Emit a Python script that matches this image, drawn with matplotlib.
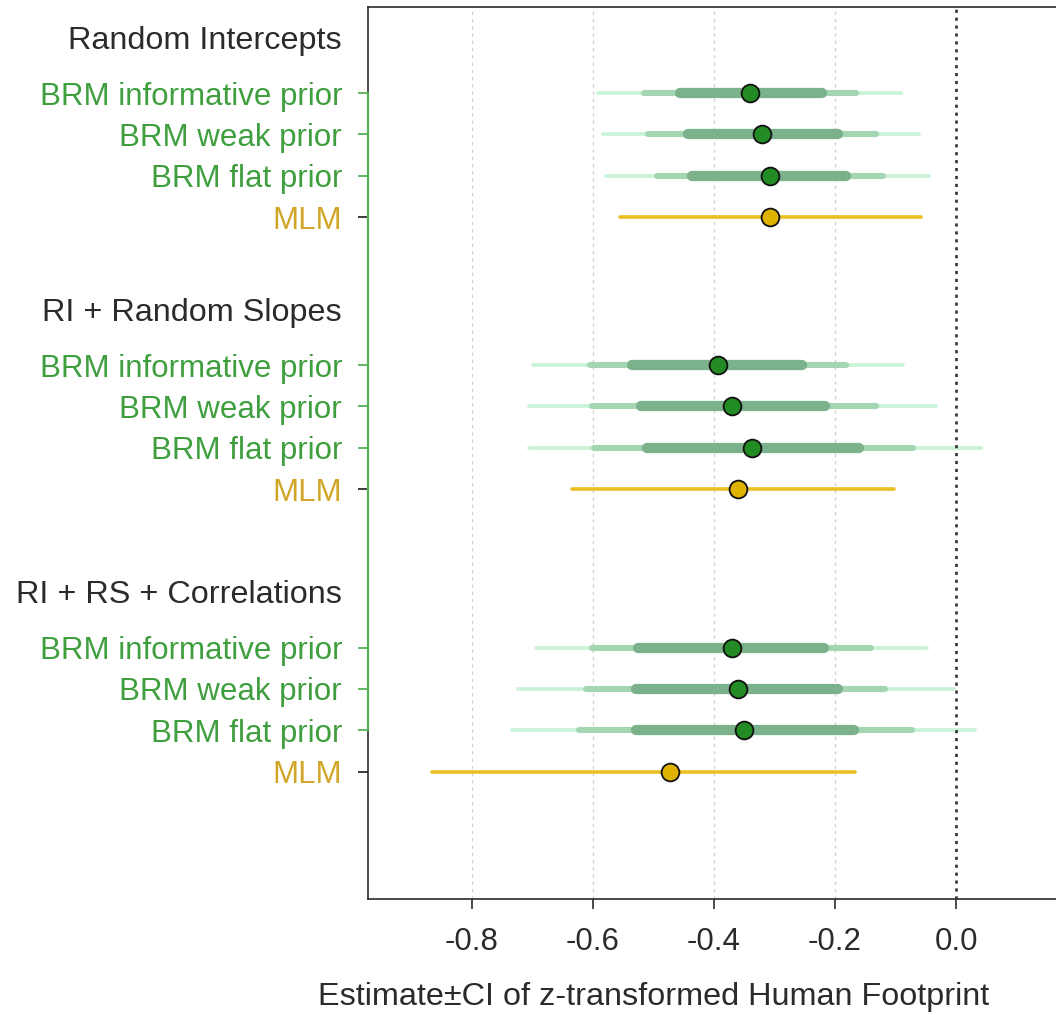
#!/usr/bin/env python3
"""Forest plot of Human Footprint estimates: BRM priors vs MLM across three random-effect structures."""

import matplotlib

matplotlib.use("Agg")
import matplotlib.pyplot as plt
from matplotlib.transforms import blended_transform_factory

# ---- data ----
GROUPS = ["Random Intercepts", "RI + Random Slopes", "RI + RS + Correlations"]
BRM_MODELS = ["BRM informative prior", "BRM weak prior", "BRM flat prior"]
MLM_LABEL = "MLM"

# posterior medians, one row per group, one column per prior
brm_est = [
    [-0.340, -0.321, -0.308],
    [-0.394, -0.371, -0.337],
    [-0.370, -0.360, -0.351],
]
# widest interval (thin, light band)
brm_outer_lo = [[-0.592, -0.583, -0.579], [-0.699, -0.705, -0.705], [-0.694, -0.724, -0.734]]
brm_outer_hi = [[-0.091, -0.061, -0.045], [-0.088, -0.033, 0.041], [-0.048, -0.003, 0.031]]
# middle interval
brm_mid_lo = [[-0.515, -0.509, -0.495], [-0.605, -0.601, -0.598], [-0.601, -0.611, -0.623]]
brm_mid_hi = [[-0.166, -0.133, -0.120], [-0.182, -0.133, -0.071], [-0.140, -0.117, -0.073]]
# inner interval (thick band)
brm_inner_lo = [[-0.456, -0.443, -0.436], [-0.535, -0.521, -0.511], [-0.526, -0.529, -0.529]]
brm_inner_hi = [[-0.222, -0.195, -0.182], [-0.255, -0.216, -0.160], [-0.218, -0.195, -0.168]]

mlm_est = [-0.308, -0.361, -0.473]
mlm_lo = [-0.556, -0.635, -0.866]
mlm_hi = [-0.058, -0.102, -0.167]

X_TICKS = [-0.8, -0.6, -0.4, -0.2, 0.0]

# ---- layout (vertical positions in pixel-like units, axis inverted) ----
GROUP_FIRST_ROW = [93.0, 365.0, 647.5]
ROW_STEP = 41.4
HEADER_OFFSET = 52.5

GREEN_TEXT = "#3f9f3f"
GOLD_TEXT = "#d1a627"
DARK = "#2b2b2b"
SPINE_GREEN = "#55b055"


def main():
    plt.rcParams.update(
        {
            "font.family": ["Liberation Sans", "DejaVu Sans"],
            "axes.unicode_minus": False,
        }
    )
    fs = 22.5
    fs_wide = 23.3

    fig = plt.figure(figsize=(10.56, 10.15), dpi=100, facecolor="white")
    ax = fig.add_axes([368 / 1056, 1 - 899 / 1015, 1 - 368 / 1056, (899 - 7) / 1015])
    ax.set_xlim((368 - 956) / 605, (1056 - 956) / 605)
    ax.set_ylim(899, 7)

    for side in ["top", "left", "bottom"]:
        ax.spines[side].set_color(DARK)
        ax.spines[side].set_linewidth(1.2)
    ax.spines["right"].set_visible(False)

    # vertical reference lines
    for xv in X_TICKS[:-1]:
        ax.axvline(xv, color="#cfcfcf", linewidth=0.9, linestyle=(0, (2.6, 3.2)), zorder=1)
    ax.axvline(0.0, color="#333333", linewidth=1.9, linestyle=(0, (1.2, 1.8)), zorder=4)

    ytick_pos, ytick_lab, ytick_col = [], [], []
    for g, group in enumerate(GROUPS):
        top = GROUP_FIRST_ROW[g]
        ax.annotate(
            group,
            xy=(0, top - HEADER_OFFSET),
            xycoords=blended_transform_factory(ax.transAxes, ax.transData),
            xytext=(-18.7, 0),
            textcoords="offset points",
            ha="right",
            va="center",
            fontsize=fs_wide,
            color=DARK,
            annotation_clip=False,
        )
        for m, model in enumerate(BRM_MODELS):
            y = top + m * ROW_STEP
            ax.plot([brm_outer_lo[g][m], brm_outer_hi[g][m]], [y, y], color="#c8f3d7",
                    linewidth=2.7, solid_capstyle="round", zorder=2)
            ax.plot([brm_mid_lo[g][m], brm_mid_hi[g][m]], [y, y], color="#a4d6b4",
                    linewidth=4.4, solid_capstyle="round", zorder=2.5)
            ax.plot([brm_inner_lo[g][m], brm_inner_hi[g][m]], [y, y], color="#7bb28c",
                    linewidth=7.4, solid_capstyle="round", zorder=3)
            ax.plot(brm_est[g][m], y, "o", markersize=12.8, markerfacecolor="#238b23",
                    markeredgecolor="#111111", markeredgewidth=1.3, zorder=5)
            ytick_pos.append(y)
            ytick_lab.append(model)
            ytick_col.append(GREEN_TEXT)
        y = top + 3 * ROW_STEP
        ax.plot([mlm_lo[g], mlm_hi[g]], [y, y], color="#e9bf22", linewidth=2.6,
                solid_capstyle="round", zorder=3)
        ax.plot(mlm_est[g], y, "o", markersize=12.8, markerfacecolor="#dfb100",
                markeredgecolor="#111111", markeredgewidth=1.3, zorder=5)
        ytick_pos.append(y)
        ytick_lab.append(MLM_LABEL)
        ytick_col.append(GOLD_TEXT)

    # green stretch of the left axis line between the BRM ticks
    ax.plot([0, 0], [GROUP_FIRST_ROW[0], GROUP_FIRST_ROW[2] + 2 * ROW_STEP],
            transform=blended_transform_factory(ax.transAxes, ax.transData),
            color=SPINE_GREEN, linewidth=1.6, clip_on=False, zorder=6)

    ax.set_yticks(ytick_pos)
    ax.set_yticklabels(ytick_lab, fontsize=fs)
    ax.tick_params(axis="y", length=7.2, width=1.3, pad=11.5)
    for tick, col in zip(ax.yaxis.get_major_ticks(), ytick_col):
        tick.label1.set_color(col)
        tick.tick1line.set_markeredgecolor(SPINE_GREEN if col == GREEN_TEXT else DARK)

    ax.set_xticks(X_TICKS)
    ax.set_xticklabels([f"{v:.1f}" for v in X_TICKS], fontsize=fs, color=DARK)
    ax.tick_params(axis="x", length=7.2, width=1.2, pad=13, color=DARK)

    fig.text(653.5 / 1056, 1 - 997 / 1015, "Estimate\u00b1CI of z-transformed Human Footprint",
             ha="center", va="center", fontsize=fs_wide, color=DARK)

    fig.savefig("out.png", dpi=100)
    plt.close(fig)


if __name__ == "__main__":
    main()
